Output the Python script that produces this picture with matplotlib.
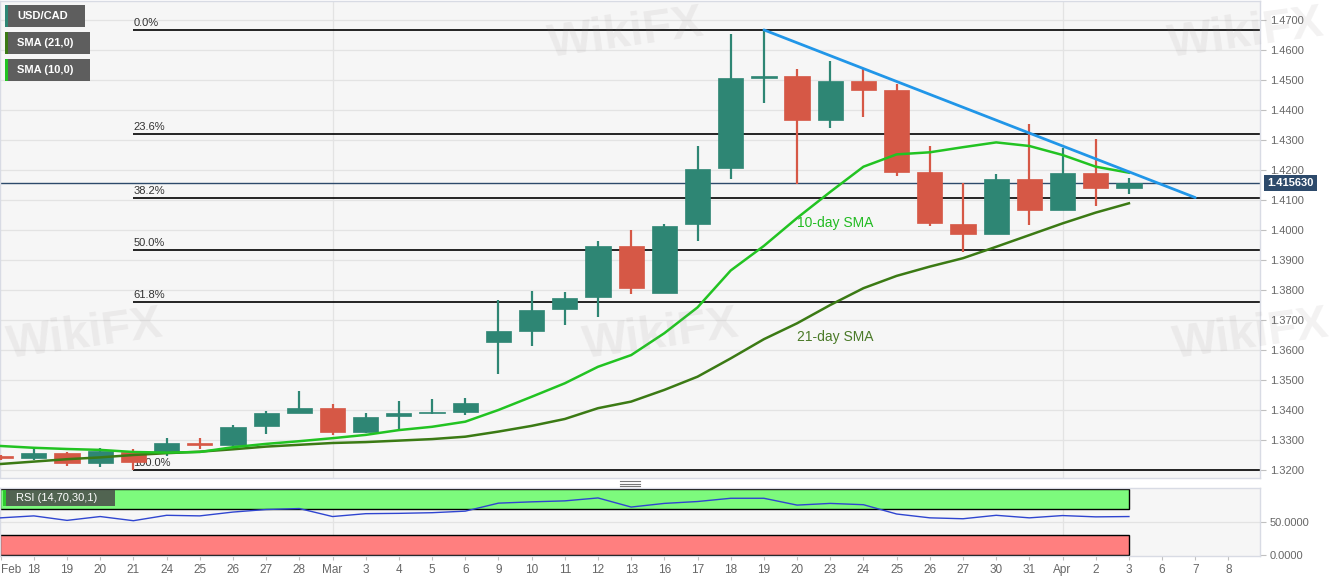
import matplotlib
matplotlib.use('Agg')
import matplotlib.pyplot as plt
import matplotlib.transforms as mtrans
from matplotlib.patches import Rectangle
from matplotlib.lines import Line2D

plt.rcParams['font.family'] = ['Liberation Sans', 'DejaVu Sans']

# ---------------- data ----------------
date_labels = ['Feb', '18', '19', '20', '21', '24', '25', '26', '27', '28',
               'Mar', '3', '4', '5', '6', '9', '10', '11', '12', '13',
               '16', '17', '18', '19', '20', '23', '24', '25', '26', '27',
               '30', '31', 'Apr', '2', '3', '6', '7', '8']

opens = [1.3245, 1.3239, 1.3256, 1.3224, 1.3261, 1.3258, 1.3290, 1.3282, 1.3347, 1.3391,
         1.3406, 1.3328, 1.3381, 1.3389, 1.3394, 1.3628, 1.3664, 1.3736, 1.3776, 1.3947,
         1.3790, 1.4019, 1.4207, 1.4509, 1.4513, 1.4367, 1.4496, 1.4466, 1.4193, 1.4021,
         1.3986, 1.4169, 1.4067, 1.4190, 1.4141]
highs = [1.3250, 1.3275, 1.3261, 1.3272, 1.3269, 1.3308, 1.3308, 1.3350, 1.3396, 1.3464,
         1.3419, 1.3391, 1.3431, 1.3438, 1.3441, 1.3767, 1.3798, 1.3794, 1.3962, 1.4000,
         1.4021, 1.4280, 1.4652, 1.4667, 1.4538, 1.4562, 1.4536, 1.4486, 1.4280, 1.4158,
         1.4187, 1.4352, 1.4274, 1.4302, 1.4174]
lows = [1.3232, 1.3233, 1.3214, 1.3211, 1.3200, 1.3248, 1.3269, 1.3272, 1.3320, 1.3391,
        1.3317, 1.3322, 1.3333, 1.3388, 1.3383, 1.3519, 1.3613, 1.3683, 1.3709, 1.3786,
        1.3790, 1.3963, 1.4169, 1.4422, 1.4153, 1.4339, 1.4376, 1.4180, 1.4013, 1.3928,
        1.3985, 1.4016, 1.4066, 1.4081, 1.4119]
closes = [1.3240, 1.3256, 1.3224, 1.3263, 1.3228, 1.3289, 1.3283, 1.3344, 1.3389, 1.3406,
          1.3328, 1.3378, 1.3389, 1.3394, 1.3422, 1.3663, 1.3733, 1.3774, 1.3947, 1.3807,
          1.4014, 1.4202, 1.4506, 1.4513, 1.4367, 1.4496, 1.4467, 1.4194, 1.4022, 1.3986,
          1.4169, 1.4067, 1.4190, 1.4141, 1.41563]

sma10 = [1.3280, 1.3274, 1.3270, 1.3267, 1.3260, 1.3258, 1.3260, 1.3276, 1.3287, 1.3296,
         1.3306, 1.3317, 1.3333, 1.3344, 1.3361, 1.3400, 1.3444, 1.3489, 1.3544, 1.3583,
         1.3656, 1.3742, 1.3865, 1.3947, 1.4040, 1.4127, 1.4211, 1.4252, 1.4259, 1.4276,
         1.4292, 1.4280, 1.4250, 1.4211, 1.4191]
sma21 = [1.3220, 1.3228, 1.3236, 1.3242, 1.3250, 1.3256, 1.3261, 1.3269, 1.3278, 1.3284,
         1.3290, 1.3293, 1.3298, 1.3303, 1.3311, 1.3328, 1.3347, 1.3370, 1.3406, 1.3428,
         1.3467, 1.3511, 1.3572, 1.3636, 1.3689, 1.3750, 1.3806, 1.3847, 1.3878, 1.3906,
         1.3944, 1.3983, 1.4022, 1.4058, 1.4089]
rsi = [56.4, 59.4, 52.5, 58.4, 52.0, 60.3, 59.4, 65.3, 69.2, 70.7,
       58.4, 62.8, 63.3, 64.3, 66.7, 79.0, 81.0, 82.5, 87.0, 73.0,
       78.6, 81.5, 86.5, 86.5, 76.0, 78.6, 76.6, 62.3, 56.4, 55.0,
       60.3, 56.4, 59.9, 57.9, 58.4]

fib_high = 1.4667
fib_low = 1.3200
fib_start = 4
fib_levels = [0.0, 23.6, 38.2, 50.0, 61.8, 100.0]
fib_labels = ['0.0%', '23.6%', '38.2%', '50.0%', '61.8%', '100.0%']

trend_x = [23, 36]
trend_y = [1.4667, 1.4108]

last_price = 1.41563
last_label = '1.415630'
price_ticks = [1.32, 1.33, 1.34, 1.35, 1.36, 1.37, 1.38, 1.39, 1.40,
               1.41, 1.42, 1.43, 1.44, 1.45, 1.46, 1.47]
rsi_ticks = [0, 50]
month_idx = [10, 32]

# ---------------- style ----------------
W, H = 1331, 583
UP = '#2e8674'
DN = '#d65846'
BG = '#f6f6f6'
GRID = '#e3e3e3'
TXT = '#666666'

fig = plt.figure(figsize=(W / 100, H / 100), dpi=100)
fig.patch.set_facecolor('white')

def fx(px):
    return px / W

def fy(py):
    return 1 - py / H

x_left, x_right = -0.02, 37.95
ax = fig.add_axes([0, fy(478), fx(1260), fy(1) - fy(478)])
ax2 = fig.add_axes([0, fy(556), fx(1260), fy(488) - fy(556)])

for a in (ax, ax2):
    a.set_facecolor(BG)
    a.set_xlim(x_left, x_right)
    for s in a.spines.values():
        s.set_color('#d8dbe4')
        s.set_linewidth(1)

ax.set_ylim(1.31733, 1.47633)
ax2.set_ylim(-2.3, 102.3)

# grid
for p in price_ticks:
    ax.axhline(p, color=GRID, lw=0.9, zorder=0)
for m in month_idx:
    ax.axvline(m, color=GRID, lw=0.9, zorder=0)
    ax2.axvline(m, color=GRID, lw=0.9, zorder=0)
ax2.axhline(50, color=GRID, lw=0.9, zorder=0)

# faint watermarks (kept fully inside the figure)
wm_kw = dict(fontsize=34, fontweight='bold', color='#8a8080', alpha=0.10,
             rotation=8, ha='left', va='center', zorder=1)
fig.text(fx(545), fy(34), 'WikiFX', **wm_kw)
fig.text(fx(1165), fy(34), 'WikiFX', **wm_kw)
fig.text(fx(4), fy(335), 'WikiFX', **wm_kw)
fig.text(fx(580), fy(335), 'WikiFX', **wm_kw)
fig.text(fx(1170), fy(335), 'WikiFX', **wm_kw)

# fibonacci lines
for lev, lab in zip(fib_levels, fib_labels):
    price = fib_high - (fib_high - fib_low) * lev / 100.0
    ax.plot([fib_start, x_right], [price, price], color='black', lw=1.2, zorder=2,
            solid_capstyle='butt')
    ax.text(fib_start, price + 0.0007, lab, fontsize=8, color='#333333',
            ha='left', va='bottom', zorder=3)

# last price line
ax.axhline(last_price, color='#2d4a6b', lw=1.0, zorder=2)

# candles
bw = 0.76
for i, (o, h, l, c) in enumerate(zip(opens, highs, lows, closes)):
    col = UP if c >= o else DN
    ax.plot([i, i], [l, h], color=col, lw=1.6, zorder=4, solid_capstyle='butt')
    lo = min(o, c)
    hh = max(abs(c - o), 0.0006)
    if abs(c - o) < 0.0006:
        lo = (o + c) / 2 - 0.0003
    ax.add_patch(Rectangle((i - bw / 2, lo), bw, hh, fc=col, ec=col, lw=0.5, zorder=5))

# SMAs
xs = list(range(len(closes)))
ax.plot(xs, sma21, color='#3b7a14', lw=1.8, zorder=6)
ax.plot(xs, sma10, color='#22c322', lw=1.8, zorder=6)

# trendline
ax.plot(trend_x, trend_y, color='#2196e8', lw=2.0, zorder=7, solid_capstyle='round')

# annotations
ax.text(24.0, 1.4023, '10-day SMA', color='#22bb22', fontsize=10, ha='left', va='center', zorder=8)
ax.text(24.0, 1.3642, '21-day SMA', color='#4a7a28', fontsize=10, ha='left', va='center', zorder=8)

# right axis
ax.yaxis.tick_right()
ax.set_yticks(price_ticks)
ax.set_yticklabels(['%.4f' % p for p in price_ticks])
ax.tick_params(axis='y', colors='#c0c0c0', labelcolor=TXT, labelsize=8, length=4, pad=3)
ax.set_xticks([])

trans = mtrans.blended_transform_factory(ax.transAxes, ax.transData)
ax.text(1.006, last_price, last_label, transform=trans, ha='left', va='center',
        color='white', fontsize=8, fontweight='bold', zorder=10, clip_on=False,
        bbox=dict(boxstyle='square,pad=0.28', fc='#2d4a6b', ec='none'))

# RSI panel
n = len(rsi)
ax2.add_patch(Rectangle((x_left, 70), (n - 1) - x_left, 30, fc='#7dfa7d', ec='black', lw=1.0, zorder=2))
ax2.add_patch(Rectangle((x_left, 0), (n - 1) - x_left, 30, fc='#ff7f7f', ec='black', lw=1.0, zorder=2))
ax2.plot(range(n), rsi, color='#2f45d0', lw=1.0, zorder=4)
ax2.yaxis.tick_right()
ax2.set_yticks(rsi_ticks)
ax2.set_yticklabels(['%.4f' % v for v in rsi_ticks])
ax2.tick_params(axis='y', colors='#c0c0c0', labelcolor=TXT, labelsize=8, length=4, pad=3)
ax2.set_xticks(range(len(date_labels)))
ax2.set_xticklabels(date_labels)
ax2.tick_params(axis='x', colors='#c0c0c0', labelcolor=TXT, labelsize=8.5, length=3, pad=3)
lbls = ax2.get_xticklabels()
lbls[0].set_horizontalalignment('left')

# RSI label box
fig.add_artist(Rectangle((fx(5), fy(506)), fx(110), fy(490) - fy(506),
                         transform=fig.transFigure, fc='#4a4a4a', ec='none', alpha=0.85, zorder=20))
fig.add_artist(Rectangle((fx(3), fy(506)), fx(3), fy(490) - fy(506),
                         transform=fig.transFigure, fc='#2ecc2e', ec='none', zorder=21))
fig.text(fx(16), fy(498), 'RSI (14,70,30,1)', color='white', fontsize=8, ha='left', va='center', zorder=22)

# legend boxes
for (y0, y1, lab, stripe, wdt) in [(5, 27, 'USD/CAD', UP, 80),
                                   (32, 54, 'SMA (21,0)', '#3b7a14', 85),
                                   (59, 81, 'SMA (10,0)', '#22c322', 85)]:
    fig.add_artist(Rectangle((fx(5), fy(y1)), fx(wdt), fy(y0) - fy(y1),
                             transform=fig.transFigure, fc='#5e5e5e', ec='none', zorder=20))
    fig.add_artist(Rectangle((fx(5), fy(y1)), fx(2.5), fy(y0) - fy(y1),
                             transform=fig.transFigure, fc=stripe, ec='none', zorder=21))
    fig.text(fx(17), fy((y0 + y1) / 2), lab, color='white', fontsize=8, fontweight='bold',
             ha='left', va='center', zorder=22)

# panel resize handle
for yy in (481, 483.5, 486):
    fig.add_artist(Line2D([fx(620), fx(640)], [fy(yy), fy(yy)], transform=fig.transFigure,
                          color='#777777', lw=0.8))

fig.savefig('out.png', dpi=100, facecolor='white')
